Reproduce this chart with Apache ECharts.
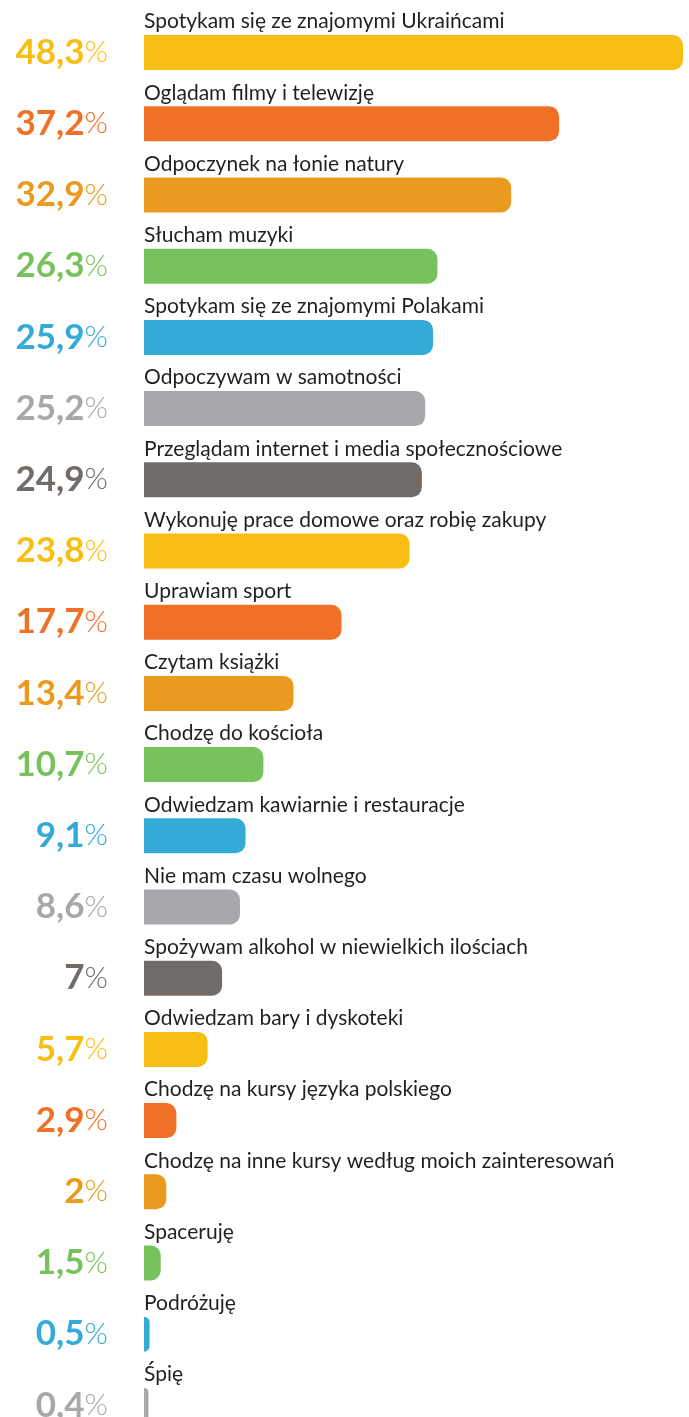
<!DOCTYPE html>
<html>
<head>
<meta charset="utf-8">
<script src="https://cdn.jsdelivr.net/npm/echarts@6/dist/echarts.min.js"></script>
<style>
html,body{margin:0;padding:0;background:#fff;overflow:hidden;}
#chart{width:689px;height:1460px;}
</style>
</head>
<body>
<div id="chart"></div>
<script>
var categories = [
  "Spotykam się ze znajomymi Ukraińcami",
  "Oglądam filmy i telewizję",
  "Odpoczynek na łonie natury",
  "Słucham muzyki",
  "Spotykam się ze znajomymi Polakami",
  "Odpoczywam w samotności",
  "Przeglądam internet i media społecznościowe",
  "Wykonuję prace domowe oraz robię zakupy",
  "Uprawiam sport",
  "Czytam książki",
  "Chodzę do kościoła",
  "Odwiedzam kawiarnie i restauracje",
  "Nie mam czasu wolnego",
  "Spożywam alkohol w niewielkich ilościach",
  "Odwiedzam bary i dyskoteki",
  "Chodzę na kursy języka polskiego",
  "Chodzę na inne kursy według moich zainteresowań",
  "Spaceruję",
  "Podróżuję",
  "Śpię"
];
var values = [48.3, 37.2, 32.9, 26.3, 25.9, 25.2, 24.9, 23.8, 17.7, 13.4, 10.7, 9.1, 8.6, 7, 5.7, 2.9, 2, 1.5, 0.5, 0.4];
var palette = ["#F8BE14", "#F07125", "#EA9A1F", "#78C25D", "#33ABD6", "#A7A8AC", "#716C68"];

var rich = {};
palette.forEach(function (c, i) {
  rich['n' + i] = { fontFamily: 'Lato', fontSize: 35, fontWeight: 'bold', color: c };
  rich['p' + i] = { fontFamily: 'Lato', fontSize: 30, fontWeight: 300, color: c };
});

var chart = echarts.init(document.getElementById('chart'), null, { renderer: 'canvas' });
chart.setOption({
  animation: false,
  backgroundColor: '#ffffff',
  grid: { left: 144, top: 17, right: 0, height: 1424, containLabel: false },
  xAxis: { type: 'value', min: 0, max: 48.84, show: false },
  yAxis: {
    type: 'category',
    inverse: true,
    data: categories,
    axisLine: { show: false },
    axisTick: { show: false },
    splitLine: { show: false },
    axisLabel: {
      margin: 36,
      formatter: function (v, idx) {
        var k = idx % palette.length;
        var s = String(values[idx]).replace('.', ',');
        return '{n' + k + '|' + s + '}{p' + k + '|%}';
      },
      rich: rich
    }
  },
  series: [{
    type: 'bar',
    barWidth: 35,
    data: values.map(function (v, i) {
      return { value: v, itemStyle: { color: palette[i % palette.length] } };
    }),
    itemStyle: { borderRadius: [0, 10, 10, 0] },
    label: {
      show: true,
      position: [0, -1],
      align: 'left',
      verticalAlign: 'bottom',
      formatter: '{b}',
      fontFamily: 'Lato',
      fontSize: 21,
      lineHeight: 25,
      color: '#231F20'
    }
  }]
});
</script>
</body>
</html>
